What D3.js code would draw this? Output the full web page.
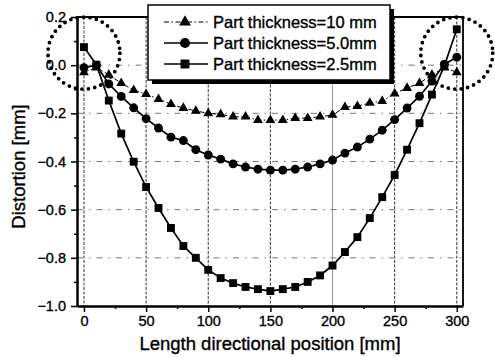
<!DOCTYPE html>
<html>
<head>
<meta charset="utf-8">
<script src="https://cdn.jsdelivr.net/npm/d3@7/dist/d3.min.js"></script>
<style>
  body { margin: 0; background: #fff; }
  svg { font-family: "Liberation Sans", Arial, sans-serif; }
  svg text { stroke: #000; stroke-width: 0.35px; }
</style>
</head>
<body>
<svg></svg>
<script>
let width = 495,
  height = 357;

// data
let positions = [0, 10, 20, 30, 40, 50, 60, 70, 80, 90, 100, 110, 120, 130, 140, 150,
  160, 170, 180, 190, 200, 210, 220, 230, 240, 250, 260, 270, 280, 290, 300];
let thick10 = [-0.03, -0.01, -0.04, -0.075, -0.104, -0.12, -0.141, -0.162, -0.178, -0.19,
  -0.2, -0.204, -0.214, -0.214, -0.228, -0.228, -0.228, -0.22, -0.22, -0.214, -0.207,
  -0.174, -0.17, -0.157, -0.149, -0.118, -0.095, -0.075, -0.04, -0.01, -0.03];
let thick50 = [-0.01, 0, -0.078, -0.13, -0.177, -0.222, -0.261, -0.299, -0.313, -0.351,
  -0.373, -0.39, -0.41, -0.423, -0.432, -0.436, -0.436, -0.432, -0.423, -0.41, -0.394,
  -0.365, -0.34, -0.307, -0.27, -0.226, -0.178, -0.129, -0.066, 0.004, 0.033];
let thick25 = [0.075, 0.002, -0.147, -0.284, -0.401, -0.506, -0.593, -0.676, -0.751, -0.8,
  -0.85, -0.884, -0.905, -0.921, -0.93, -0.938, -0.93, -0.921, -0.9, -0.873, -0.832,
  -0.776, -0.714, -0.635, -0.548, -0.456, -0.351, -0.241, -0.122, -0.003, 0.149];
let seriesNames = ["Part thickness=10 mm", "Part thickness=5.0mm", "Part thickness=2.5mm"];
let xTicks = [0, 50, 100, 150, 200, 250, 300];
let yTicks = [0.2, 0.0, -0.2, -0.4, -0.6, -0.8, -1.0];
// the two dotted rings marking the ends
let ringCenters = [[0, 0.05], [300, 0.05]];

let svg = d3.select("svg").attr("width", width).attr("height", height);

let x = d3.scaleLinear().domain([-5.6, 305]).range([77, 463]);
let y = d3.scaleLinear().domain([-1.0, 0.2]).range([306, 17]);

// grid
svg.append("g")
  .selectAll("line")
  .data(xTicks)
  .enter()
  .append("line")
  .attr("x1", (d) => x(d)).attr("x2", (d) => x(d))
  .attr("y1", y(0.2)).attr("y2", y(-1.0))
  .attr("stroke", (d) => d == 200 ? "#999" : "#333")
  .attr("stroke-width", 1)
  .attr("stroke-dasharray", (d) => d == 200 ? null : "3,1.5");

svg.append("g")
  .selectAll("line")
  .data(yTicks.filter((d) => d < 0.2 && d > -1.0))
  .enter()
  .append("line")
  .attr("x1", x(-5.6)).attr("x2", x(305))
  .attr("y1", (d) => y(d)).attr("y2", (d) => y(d))
  .attr("stroke", "#777")
  .attr("stroke-width", 1)
  .attr("stroke-dasharray", "6,6,1.5,6");

// axes
let fmt = d3.format(".1f");
let xAxis = svg.append("g")
  .attr("transform", "translate(0," + y(-1.0) + ")")
  .call(d3.axisBottom(x).tickValues(xTicks).tickSize(6).tickSizeOuter(0).tickPadding(4));
svg.append("g")
  .attr("transform", "translate(0," + y(-1.0) + ")")
  .call(d3.axisBottom(x).tickValues([25, 75, 125, 175, 225, 275]).tickSize(3).tickFormat(""))
  .call((g) => g.select(".domain").remove());

let yAxis = svg.append("g")
  .attr("transform", "translate(" + x(-5.6) + ",0)")
  .call(d3.axisLeft(y).tickValues(yTicks).tickSize(6).tickSizeOuter(0).tickPadding(5).tickFormat(fmt));
svg.append("g")
  .attr("transform", "translate(" + x(-5.6) + ",0)")
  .call(d3.axisLeft(y).tickValues([0.1, -0.1, -0.3, -0.5, -0.7, -0.9]).tickSize(3).tickFormat(""))
  .call((g) => g.select(".domain").remove());

svg.selectAll(".tick text").attr("font-size", 14.5).attr("fill", "#000")
  .attr("font-family", "Liberation Sans, Arial, sans-serif");
svg.selectAll(".tick line").attr("stroke", "#000").attr("stroke-width", 1.5);
xAxis.select(".domain").attr("stroke-width", 2.5);
yAxis.select(".domain").attr("stroke-width", 2.5);

// top / right frame
svg.append("path")
  .attr("d", "M" + x(-5.6) + "," + y(0.2) + "H" + x(305) + "V" + y(-1.0))
  .attr("fill", "none")
  .attr("stroke", "#000")
  .attr("stroke-width", 1.8);

// series
let line = d3.line().x((d) => x(d[0])).y((d) => y(d[1]));
let series = [
  { values: thick10, symbol: d3.symbolTriangle, size: 42, width: 1, dash: "5,2.5,1.5,2.5" },
  { values: thick50, symbol: d3.symbolCircle, size: 62, width: 1.7, dash: null },
  { values: thick25, symbol: d3.symbolSquare, size: 62, width: 1.7, dash: null },
];

series.forEach((s) => {
  let pts = positions.map((p, i) => [p, s.values[i]]);
  svg.append("path")
    .attr("d", line(pts))
    .attr("fill", "none")
    .attr("stroke", "#000")
    .attr("stroke-width", s.width)
    .attr("stroke-dasharray", s.dash);
  svg.append("g")
    .selectAll("path")
    .data(pts)
    .enter()
    .append("path")
    .attr("transform", (d) => "translate(" + x(d[0]) + "," + y(d[1]) + ")")
    .attr("d", d3.symbol().type(s.symbol).size(s.size))
    .attr("fill", "#000");
});

// dotted rings
svg.append("g")
  .selectAll("circle")
  .data(ringCenters)
  .enter()
  .append("circle")
  .attr("cx", (d) => x(d[0]))
  .attr("cy", (d) => y(d[1]))
  .attr("r", 36)
  .attr("fill", "none")
  .attr("stroke", "#000")
  .attr("stroke-width", 3.8)
  .attr("stroke-linecap", "round")
  .attr("stroke-dasharray", "0,6.5");

// legend
let legend = svg.append("g").attr("transform", "translate(148,5)");
legend.append("rect").attr("x", 4).attr("y", 4).attr("width", 242).attr("height", 75).attr("fill", "#000");
legend.append("rect").attr("x", 0).attr("y", 0).attr("width", 242).attr("height", 75)
  .attr("fill", "#fff").attr("stroke", "#000").attr("stroke-width", 1.5);

let rows = legend.selectAll(".row")
  .data(series)
  .enter()
  .append("g")
  .attr("transform", (d, i) => "translate(0," + (17 + i * 21) + ")");
rows.append("line")
  .attr("x1", 16).attr("x2", 60)
  .attr("stroke", "#000")
  .attr("stroke-width", (d) => d.width)
  .attr("stroke-dasharray", (d) => d.dash);
rows.append("path")
  .attr("transform", "translate(37,0)")
  .attr("d", (d) => d3.symbol().type(d.symbol).size(d.size + 18)())
  .attr("fill", "#000");
rows.append("text")
  .attr("x", 65)
  .attr("y", 6)
  .attr("font-size", 16.5)
  .text((d, i) => seriesNames[i]);

// axis titles
svg.append("text")
  .attr("x", 270)
  .attr("y", 350)
  .attr("text-anchor", "middle")
  .attr("font-size", 18.5)
  .text("Length directional position [mm]");

svg.append("text")
  .attr("transform", "translate(25," + ((y(0.2) + y(-1.0)) / 2 + 5) + ") rotate(-90)")
  .attr("text-anchor", "middle")
  .attr("font-size", 18.5)
  .text("Distortion [mm]");
</script>
</body>
</html>
